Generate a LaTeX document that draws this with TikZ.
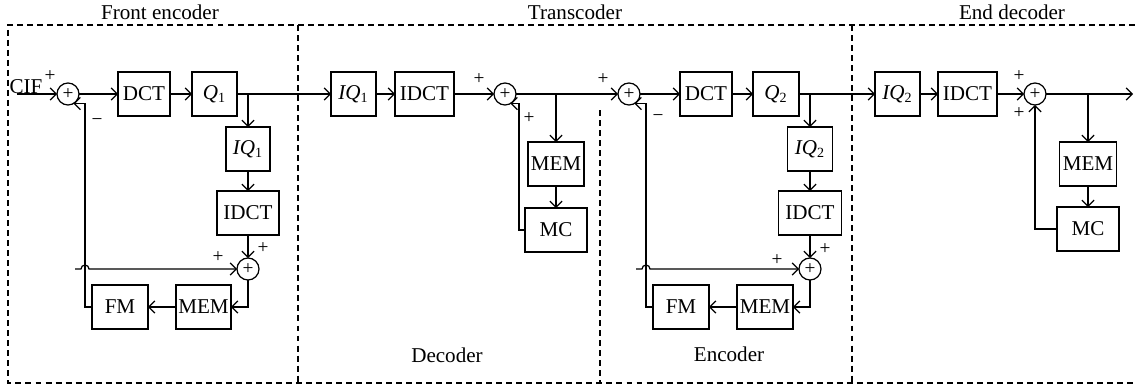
\documentclass[tikz,border=0pt]{standalone}
\usepackage{fontspec}
\setmainfont{Liberation Serif}
\usetikzlibrary{arrows.meta,positioning}

\begin{document}
\begin{tikzpicture}[x=1mm,y=1mm,line width=0.7pt,
    >={Straight Barb[length=3.4pt,width=7pt]},
    blk/.style={draw,minimum height=8.8mm,inner sep=1pt,outer sep=0pt,font=\fontsize{12}{14}\selectfont},
    sum/.style={draw,circle,minimum size=4.4mm,inner sep=0pt,outer sep=0pt,font=\fontsize{11}{12}\selectfont},
    sgn/.style={inner sep=0pt,font=\fontsize{11}{12}\selectfont},
    lbl/.style={inner sep=0pt,font=\fontsize{12}{14}\selectfont},
    frame/.style={dash pattern=on 3.4pt off 2.3pt,line width=0.6pt}]

  \useasboundingbox (0,0) rectangle (227,-77.4);

  % frames and titles
  \draw[frame] (227,-5) -- (1.6,-5) -- (1.6,-76.6) -- (227,-76.6);
  \draw[frame] (59.6,-5) -- (59.6,-76.6);
  \draw[frame] (170.4,-5) -- (170.4,-76.6);
  \draw[frame] (120,-22) -- (120,-76.6);
  \node[lbl] (tfront) at (32,-2.4) {Front encoder};
  \node[lbl] (ttrans) at (115,-2.4) {Transcoder};
  \node[lbl] (tend) at (202.4,-2.4) {End decoder};
  \node[lbl] (tdec) at (89.4,-71) {Decoder};
  \node[lbl] (tenc) at (145.8,-70.8) {Encoder};

  % front encoder
  \node[sum] (s1) at (13.6,-18.8) {+};
  \coordinate[left=8mm of s1] (cif);
  \node[lbl] (ciftxt) at ([shift={(1.8mm,1.5mm)}]cif) {CIF};
  \node[blk,right=7.8mm of s1,minimum width=10.4mm] (dct1) {DCT};
  \node[blk,right=4.4mm of dct1,minimum width=9mm] (q1) {\textit{Q}\textsubscript{1}};
  \coordinate[right=2.2mm of q1] (b1);
  \node[blk,below=6.6mm of b1,minimum width=8.8mm] (iq1) {\textit{IQ}\textsubscript{1}};
  \node[blk,below=4mm of iq1,minimum width=12.4mm] (idct1) {IDCT};
  \node[sum,below=4.6mm of idct1] (s2) {+};
  \node[blk,below left=3.2mm and 3.4mm of s2.center,minimum width=11mm] (mem1) {MEM};
  \node[blk,left=5.6mm of mem1,minimum width=11.2mm] (fm1) {FM};
  \coordinate[left=32.4mm of s2] (bp1);
  \node[sgn] (p1) at (10,-15.2) {+};
  \node[sgn] (m1) at (19.4,-24.4) {−};
  \node[sgn] (p2) at (43.6,-51.4) {+};
  \node[sgn] (p3) at (52.6,-49.6) {+};

  % transcoder: decoder
  \node[blk,right=18.8mm of q1,minimum width=9mm] (iq1t) {\textit{IQ}\textsubscript{1}};
  \node[blk,right=3.8mm of iq1t,minimum width=11.8mm] (idct2) {IDCT};
  \node[sum,right=8mm of idct2] (s3) {+};
  \coordinate[right=8mm of s3] (b3);
  \node[blk,below=9.6mm of b3,minimum width=11.2mm] (mem2) {MEM};
  \node[blk,below=4.4mm of mem2,minimum width=12.4mm] (mc2) {MC};
  \node[sgn] (p4) at (95.8,-15.8) {+};
  \node[sgn] (p5) at (105.8,-23.6) {+};

  % transcoder: encoder
  \node[sum,right=20.4mm of s3] (s4) {+};
  \node[blk,right=8mm of s4,minimum width=10.4mm] (dct3) {DCT};
  \node[blk,right=4.2mm of dct3,minimum width=9.2mm] (q2) {\textit{Q}\textsubscript{2}};
  \coordinate[right=2.2mm of q2] (b4);
  \node[blk,below=6.6mm of b4,minimum width=9mm] (iq2) {\textit{IQ}\textsubscript{2}};
  \node[blk,below=4mm of iq2,minimum width=12.6mm] (idct3) {IDCT};
  \node[sum,below=4.6mm of idct3] (s5) {+};
  \node[blk,below left=3.2mm and 3.4mm of s5.center,minimum width=11.2mm] (mem3) {MEM};
  \node[blk,left=5.6mm of mem3,minimum width=11.2mm] (fm3) {FM};
  \coordinate[left=32.6mm of s5] (bp3);
  \node[sgn] (p6) at (120.6,-15.8) {+};
  \node[sgn] (m2) at (131.6,-23.6) {−};
  \node[sgn] (p7) at (155.4,-52) {+};
  \node[sgn] (p8) at (165,-49.8) {+};

  % end decoder
  \node[blk,right=15.2mm of q2,minimum width=9mm] (iq2e) {\textit{IQ}\textsubscript{2}};
  \node[blk,right=3.6mm of iq2e,minimum width=11.8mm] (idct4) {IDCT};
  \node[sum,right=5.4mm of idct4] (s6) {+};
  \coordinate[right=17.4mm of s6] (out);
  \coordinate[right=8.4mm of s6] (b6);
  \node[blk,below=9.6mm of b6,minimum width=11.4mm] (mem4) {MEM};
  \node[blk,below=4.2mm of mem4,minimum width=12.4mm] (mc4) {MC};
  \node[sgn] (p9) at (203.8,-15.2) {+};
  \node[sgn] (p10) at (203.8,-22.6) {+};

  % connectors
  \foreach \a/\b in {cif/s1,s1/dct1,dct1/q1,q1/iq1t,b1/iq1,iq1/idct1,idct1/s2,mem1/fm1,
                     iq1t/idct2,idct2/s3,s3/s4,b3/mem2,mem2/mc2,
                     s4/dct3,dct3/q2,q2/iq2e,b4/iq2,iq2/idct3,idct3/s5,mem3/fm3,
                     iq2e/idct4,idct4/s6,s6/out,b6/mem4,mem4/mc4}
    \draw[->] (\a) -- (\b);
  \draw[->] (s2.south) |- (mem1.east);
  \draw[->] (s5.south) |- (mem3.east);
  \draw[->] (fm1.west) -- ++(-1.4mm,0) |- (s1.-60);
  \draw[->] (fm3.west) -- ++(-1.4mm,0) |- (s4.-60);
  \draw[->] (mc2.west) -- ++(-1.2mm,0) |- (s3.-60);
  \draw[->] (mc4.west) -| (s6.south);
  \draw[->] (bp1) -- ++(1.2mm,0) arc[start angle=180,end angle=0,radius=0.8mm] -- (s2);
  \draw[->] (bp3) -- ++(1.2mm,0) arc[start angle=180,end angle=0,radius=0.8mm] -- (s5);
\end{tikzpicture}
\end{document}
